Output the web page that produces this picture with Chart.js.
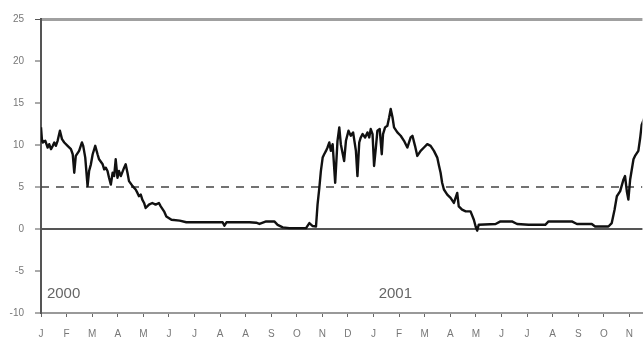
<!DOCTYPE html>
<html>
<head>
<meta charset="utf-8">
<script src="https://cdn.jsdelivr.net/npm/chart.js@4/dist/chart.umd.min.js"></script>
<style>
  html, body { margin: 0; padding: 0; background: #ffffff; }
  canvas { display: block; }
</style>
</head>
<body>
<canvas id="chart" width="644" height="341"></canvas>
<script>
// Month tick labels, Jan 2000 .. Nov 2001 (one label per tick)
const monthLabels = ['J','F','M','A','M','J','J','A','A','S','O','N','D',
                     'J','F','M','A','M','J','J','A','S','O','N'];

// Position of each observation, in months from the first tick
const monthPos = [
  0.00, 0.04, 0.07, 0.17, 0.26, 0.32, 0.39, 0.46, 0.52, 0.58, 0.65, 0.74, 0.82, 0.91,
  1.04, 1.17, 1.24, 1.30, 1.36, 1.49, 1.60, 1.65, 1.73, 1.82, 1.88, 1.95,
  2.02, 2.12, 2.21, 2.27, 2.41, 2.47, 2.53, 2.60, 2.66, 2.73, 2.80, 2.86, 2.92, 2.99,
  3.05, 3.12, 3.25, 3.31, 3.38, 3.44, 3.58, 3.70, 3.77, 3.83, 3.90, 3.96,
  4.03, 4.09, 4.22, 4.35, 4.48, 4.61, 4.68, 4.81, 4.90,
  5.10, 5.42, 5.68, 7.10, 7.17, 7.25, 8.15, 8.41, 8.54, 8.80, 9.12, 9.25, 9.45, 9.71,
  10.36, 10.49, 10.62, 10.75, 10.81, 10.88, 10.94,
  11.01, 11.07, 11.14, 11.20, 11.27, 11.33, 11.40, 11.50, 11.59, 11.66, 11.72, 11.85, 11.92,
  12.02, 12.11, 12.20, 12.31, 12.37, 12.44, 12.50, 12.57, 12.67, 12.76, 12.83, 12.89, 12.96,
  13.02, 13.09, 13.15, 13.24, 13.32, 13.37, 13.45, 13.54, 13.61, 13.67, 13.74, 13.80, 13.93,
  14.06, 14.19, 14.32, 14.45, 14.52, 14.62, 14.71, 14.84, 14.97,
  15.10, 15.23, 15.36, 15.49, 15.56, 15.62, 15.68, 15.75, 15.88,
  16.01, 16.14, 16.27, 16.33, 16.46, 16.60, 16.79, 16.92, 16.99,
  17.05, 17.11, 17.77, 17.96, 18.41, 18.61, 19.06, 19.71, 19.84, 20.75, 20.95,
  21.53, 21.66, 22.18, 22.31, 22.42, 22.51, 22.64, 22.77, 22.83, 22.90, 22.96,
  23.03, 23.16, 23.22, 23.35, 23.42, 23.48, 23.58
];

// Observed series
const seriesValues = [
  12.1, 10.5, 10.3, 10.5, 9.7, 10.1, 9.5, 9.9, 10.3, 9.9, 10.5, 11.7, 10.7, 10.3,
  9.9, 9.5, 8.9, 6.7, 8.7, 9.3, 10.3, 9.9, 8.5, 5.1, 6.9, 7.7,
  8.9, 9.9, 8.9, 8.3, 7.7, 7.1, 7.3, 6.9, 6.1, 5.3, 6.7, 6.3, 8.3, 6.1,
  6.9, 6.3, 7.3, 7.7, 6.7, 5.7, 5.1, 4.7, 4.3, 3.9, 4.1, 3.5,
  3.1, 2.5, 2.9, 3.1, 2.9, 3.1, 2.7, 2.1, 1.5,
  1.1, 1.0, 0.8, 0.8, 0.4, 0.8, 0.8, 0.75, 0.6, 0.9, 0.9, 0.5, 0.2, 0.1,
  0.1, 0.7, 0.35, 0.3, 2.9, 4.9, 6.9,
  8.5, 8.9, 9.3, 9.7, 10.3, 9.3, 10.1, 5.5, 10.5, 12.1, 10.1, 8.1, 10.5,
  11.7, 11.1, 11.5, 9.3, 6.3, 10.3, 10.9, 11.3, 10.9, 11.5, 10.9, 11.9, 11.3,
  7.5, 9.7, 11.7, 11.9, 8.9, 11.3, 12.1, 12.3, 13.3, 14.3, 13.3, 12.1, 11.5,
  11.1, 10.5, 9.7, 10.9, 11.1, 9.9, 8.7, 9.3, 9.7,
  10.1, 9.9, 9.3, 8.5, 7.5, 6.7, 5.5, 4.7, 4.1,
  3.7, 3.1, 4.3, 2.7, 2.3, 2.1, 2.1, 1.1, 0.3,
  -0.2, 0.5, 0.6, 0.9, 0.9, 0.6, 0.5, 0.5, 0.9, 0.9, 0.6,
  0.6, 0.3, 0.3, 0.7, 2.3, 3.9, 4.5, 5.9, 6.3, 4.5, 3.5,
  5.9, 8.3, 8.7, 9.3, 10.8, 12.4, 13.2
];

const threshold = 5;
const yearLabels = [{ text: '2000', month: 0.23 }, { text: '2001', month: 13.2 }];
const yearLabelLevel = -7.7;

const yTickMin = -10, yTickMax = 25, yTickStep = 5;
const xMax = 23.51;

const points = monthPos.map((m, i) => ({ x: m, y: seriesValues[i] }));

// Year captions drawn inside the plot area, just above the bottom axis
const yearLabelPlugin = {
  id: 'yearLabels',
  afterDatasetsDraw(chart) {
    const { ctx, scales } = chart;
    ctx.save();
    ctx.fillStyle = '#666';
    ctx.font = '15px "Liberation Sans", Arial, sans-serif';
    ctx.textAlign = 'left';
    ctx.textBaseline = 'middle';
    yearLabels.forEach(l => {
      ctx.fillText(l.text, scales.x.getPixelForValue(l.month), scales.y.getPixelForValue(yearLabelLevel));
    });
    ctx.restore();
  }
};

const tickFont = { family: '"Liberation Sans", Arial, sans-serif', size: 10 };

new Chart(document.getElementById('chart'), {
  type: 'line',
  data: {
    datasets: [
      {
        data: points,
        borderColor: '#111',
        borderWidth: 2.4,
        pointRadius: 0,
        tension: 0,
        borderJoinStyle: 'round',
        fill: false
      },
      {
        data: [{ x: 0, y: threshold }, { x: xMax, y: threshold }],
        borderColor: '#444',
        borderWidth: 1.5,
        borderDash: [8, 7],
        pointRadius: 0,
        fill: false
      }
    ]
  },
  options: {
    responsive: false,
    animation: false,
    devicePixelRatio: 1,
    layout: { padding: { top: 19, right: 0, left: 0, bottom: 0 } },
    plugins: { legend: { display: false }, tooltip: { enabled: false } },
    scales: {
      x: {
        type: 'linear',
        min: 0,
        max: xMax,
        ticks: {
          stepSize: 1,
          includeBounds: false,
          autoSkip: false,
          maxRotation: 0,
          color: '#777',
          font: tickFont,
          padding: 11,
          callback: v => (Number.isInteger(v) && monthLabels[v] !== undefined) ? monthLabels[v] : ''
        },
        grid: { drawOnChartArea: false, tickLength: 4, tickColor: '#666', tickWidth: 1 },
        border: { color: '#999', width: 2 },
        afterFit: s => { s.height = 28; }
      },
      y: {
        min: yTickMin,
        max: yTickMax,
        ticks: { stepSize: yTickStep, color: '#777', font: tickFont, padding: 11 },
        grid: {
          tickLength: 6,
          tickColor: '#555',
          tickWidth: 1,
          color: c => {
            const v = c.tick && c.tick.value;
            if (v === yTickMax) return '#a0a0a0';
            if (v === 0) return '#555';
            if (v === yTickMin) return '#999';
            return 'rgba(0,0,0,0)';
          },
          lineWidth: c => {
            const v = c.tick && c.tick.value;
            if (v === yTickMax) return 3;
            return 2;
          }
        },
        border: { color: '#555', width: 2 },
        afterFit: s => { s.width = 41; }
      }
    }
  },
  plugins: [yearLabelPlugin]
});
</script>
</body>
</html>
